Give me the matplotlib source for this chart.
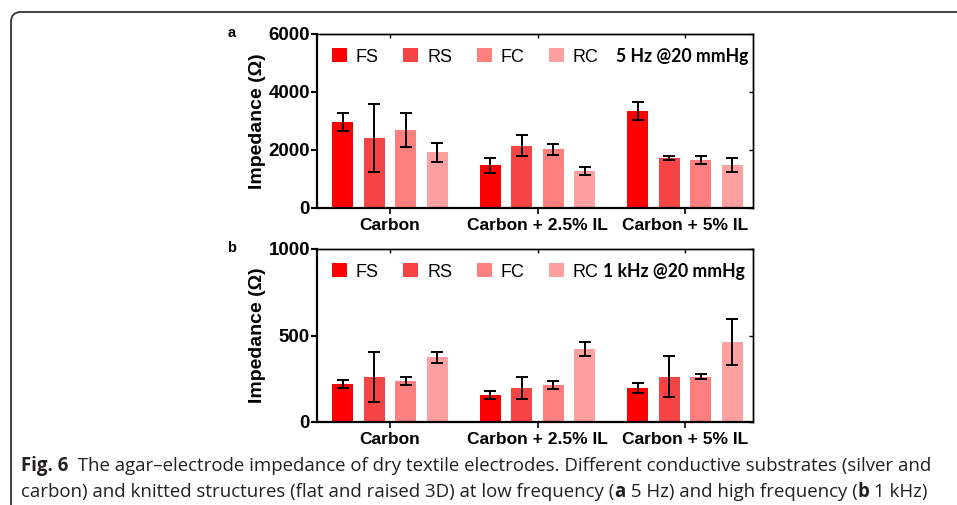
import numpy as np
import matplotlib
matplotlib.use("Agg")
import matplotlib.pyplot as plt
from matplotlib.patches import Patch, FancyBboxPatch
from matplotlib.transforms import IdentityTransform, blended_transform_factory

groups = ["Carbon", "Carbon + 2.5% IL", "Carbon + 5% IL"]
series = ["FS", "RS", "FC", "RC"]
colors = ["#ff0000", "#f74444", "#ff7f7f", "#ffa0a0"]

# panel a : 5 Hz
a_mean = {"FS": [2960, 1480, 3350], "RS": [2410, 2145, 1720],
          "FC": [2680, 2020, 1665], "RC": [1915, 1265, 1480]}
a_err = {"FS": [310, 260, 320], "RS": [1165, 360, 60],
         "FC": [590, 195, 140], "RC": [330, 135, 230]}
# panel b : 1 kHz
b_mean = {"FS": [220, 155, 197], "RS": [261, 197, 263],
          "FC": [236, 212, 263], "RC": [373, 421, 461]}
b_err = {"FS": [23, 23, 31], "RS": [143, 66, 118],
         "FC": [25, 23, 12], "RC": [33, 40, 133]}

a_ticks = [0, 2000, 4000, 6000]
b_ticks = [0, 500, 1000]

W, H = 957, 505
fig = plt.figure(figsize=(W / 100, H / 100), dpi=100)
fig.patch.set_facecolor("white")
renderer = fig.canvas.get_renderer()

SANS = ["Liberation Sans", "DejaVu Sans"]
COND = ["Lato", "DejaVu Sans"]

def px_axes(l, t, r, b):
    return fig.add_axes([l / W, 1 - b / H, (r - l) / W, (b - t) / H])

def draw_panel(ax, means, errs, ticks, ymax):
    x = np.arange(len(groups))
    pitch = 0.2136
    width = 0.142
    for i, s in enumerate(series):
        ax.bar(x + (i - 1.5) * pitch, means[s], width, color=colors[i],
               yerr=errs[s], capsize=4.3,
               error_kw=dict(elinewidth=1.4, capthick=1.4, ecolor="black"),
               label=s, zorder=2)
    ax.set_xlim(-0.495, 2.461)
    ax.set_ylim(0, ymax)
    ax.set_yticks(ticks)
    ax.set_yticklabels([str(t) for t in ticks], fontsize=13.5,
                       fontweight="bold", family=SANS)
    ax.set_xticks(x)
    ax.set_xticklabels(groups, fontsize=12.5, fontweight="bold", family=SANS)
    ax.tick_params(axis="y", direction="out", length=4, width=1.5, pad=1)
    ax.tick_params(axis="x", direction="out", length=4, width=1.2, pad=3)
    for sp in ["left", "bottom"]:
        ax.spines[sp].set_linewidth(1.6)
    for sp in ["top", "right"]:
        ax.spines[sp].set_linewidth(1.0)
    top = ax.secondary_xaxis("top")
    top.set_xticks(x)
    top.tick_params(direction="in", length=3, width=1.0, labeltop=False)
    top.spines["top"].set_linewidth(1.0)
    right = ax.secondary_yaxis("right")
    right.set_yticks(ticks)
    right.tick_params(direction="in", length=3, width=1.0, labelright=False)
    right.spines["right"].set_linewidth(1.0)
    ax.set_ylabel("Impedance (Ω)", fontsize=14, fontweight="bold",
                  family=SANS, labelpad=2)
    handles = [Patch(facecolor=colors[i], edgecolor="none", label=s)
               for i, s in enumerate(series)]
    leg = ax.legend(handles=handles, ncol=4, loc="center left",
                    bbox_to_anchor=(0.034, 0.868), frameon=False,
                    prop=dict(family=SANS, size=13), handlelength=0.83,
                    handleheight=0.83, handletextpad=0.5, columnspacing=1.35,
                    borderpad=0, borderaxespad=0)
    return leg

def legend_end(leg):
    fig.canvas.draw()
    return leg.get_texts()[-1].get_window_extent(renderer).x1

axa = px_axes(317, 34, 753, 208)
lega = draw_panel(axa, a_mean, a_err, a_ticks, 6000)
fig.text(232 / W, 1 - 33 / H, "a", fontsize=10.5, fontweight="bold",
         family=SANS, va="center", ha="center")

axb = px_axes(317, 249, 753, 422)
legb = draw_panel(axb, b_mean, b_err, b_ticks, 1000)
fig.text(232 / W, 1 - 248 / H, "b", fontsize=10.5, fontweight="bold",
         family=SANS, va="center", ha="center")

# condition labels: right-aligned just inside the right spine,
# same size for both, sized so the 1 kHz text clears the RC label
END_A, END_B = 748, 745
endb = legend_end(legb)
tb = axb.text(END_B / W, 0.868, "1 kHz @20 mmHg", fontsize=12,
              fontweight="bold", family=COND, va="center", ha="right",
              transform=blended_transform_factory(fig.transFigure,
                                                  axb.transAxes))
wb = tb.get_window_extent(renderer).width
csize = 12 * (END_B - endb - 5) / wb
tb.set_fontsize(csize)
ta = axa.text(END_A / W, 0.868, "5 Hz @20 mmHg", fontsize=csize,
              fontweight="bold", family=COND, va="center", ha="right",
              transform=blended_transform_factory(fig.transFigure,
                                                  axa.transAxes))

# frame
frame = FancyBboxPatch((11, -30), 1000, H - 12 + 30,
                       boxstyle="round,pad=0,rounding_size=10",
                       transform=IdentityTransform(), facecolor="none",
                       edgecolor="#333333", linewidth=1.3)
fig.add_artist(frame)

# caption
CAP = ["Open Sans", "DejaVu Sans"]
CAPCOL = "#231f20"

def draw_line(segs, x0, ybase, size):
    x = x0
    texts = []
    for txt, wt in segs:
        t = fig.text(x / W, 1 - ybase / H, txt, fontsize=size, fontweight=wt,
                     family=CAP, color=CAPCOL, va="baseline", ha="left")
        bb = t.get_window_extent(renderer)
        x += bb.width
        texts.append(t)
    return x - x0, texts

line1 = [("Fig. 6", "bold"),
         ("  The agar–electrode impedance of dry textile electrodes. Different conductive substrates (silver and", "normal")]
line2 = [("carbon) and knitted structures (flat and raised 3D) at low frequency (", "normal"),
         ("a", "bold"), (" 5 Hz) and high frequency (", "normal"),
         ("b", "bold"), (" 1 kHz)", "normal")]
w1, tmp = draw_line(line1, 21, 471, 12)
for t in tmp:
    t.remove()
size = 12 * 904 / w1
draw_line(line1, 21, 471, size)
draw_line(line2, 21, 497, size)

fig.savefig("out.png", dpi=100, facecolor="white")
